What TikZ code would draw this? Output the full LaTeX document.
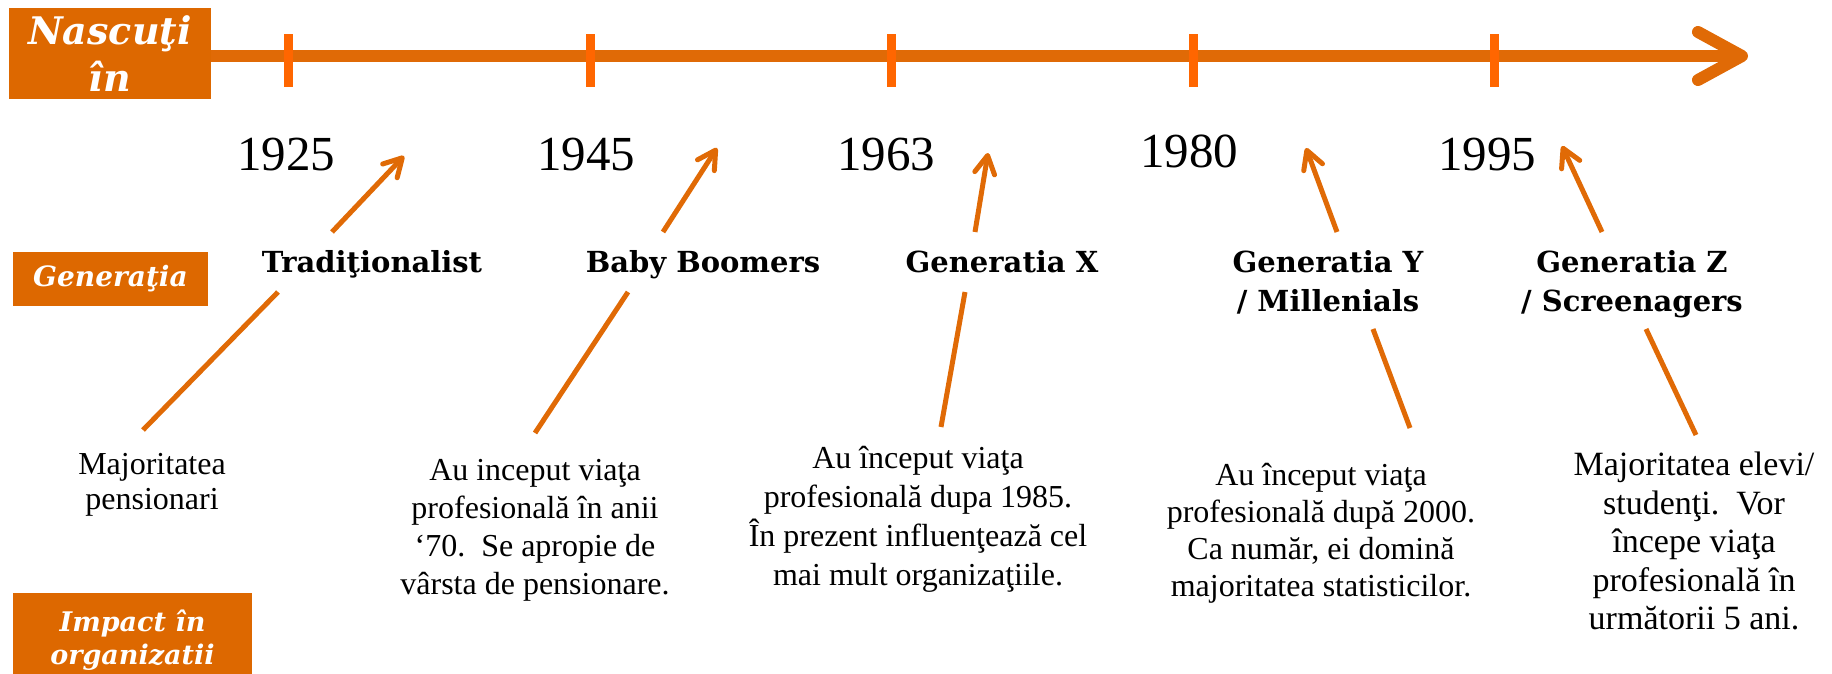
\documentclass[tikz,border=0pt]{standalone}
\usepackage{fontspec}
\setmainfont{Liberation Serif}
\newfontfamily\headfont{DejaVu Serif}
\usetikzlibrary{arrows.meta}
\definecolor{lineorange}{RGB}{224,106,6}
\definecolor{boxorange}{RGB}{221,104,0}
\definecolor{tickorange}{RGB}{255,102,0}

\begin{document}
\begin{tikzpicture}[
    x=0.5pt, y=-0.5pt,
    labelbox/.style={rectangle, fill=boxorange, text=white, inner sep=0pt, align=center},
    tickmark/.style={rectangle, fill=tickorange, inner sep=0pt, minimum width=4.5pt, minimum height=26.5pt},
    year/.style={font=\fontsize{24.5}{29}\selectfont, inner sep=0pt},
    generation/.style={anchor=north, inner sep=0pt, align=center, font=\headfont\bfseries\fontsize{14.5}{19.5}\selectfont},
    impact/.style={anchor=north, inner sep=0pt, align=center, font=\fontsize{16}{19}\selectfont},
    timeline/.style={line width=6pt, draw=lineorange, -{Straight Barb[length=22pt, width=24pt, round]}},
    pointer/.style={line width=2.5pt, draw=lineorange, -{Straight Barb[length=9pt, width=10pt, round]}},
    link/.style={line width=2.5pt, draw=lineorange},
]
\useasboundingbox (0,0) rectangle (1832,674);
\clip (0,0) rectangle (1832,674);

% Row headers
\node[labelbox, minimum width=101pt, minimum height=45.5pt, font=\headfont\bfseries\itshape\fontsize{19}{23.5}\selectfont] (nascuti) at (110,53.5) {Nascuţi\\în};
\node[labelbox, minimum width=97.5pt, minimum height=27pt, font=\headfont\bfseries\itshape\fontsize{14}{17}\selectfont] (generatia) at (110.5,279) {Generaţia};
\node[labelbox, minimum width=119.5pt, minimum height=47.5pt, font=\headfont\bfseries\itshape\fontsize{13.5}{16.5}\selectfont] (impactbox) at (132.5,640.5) {Impact în\\organizatii};

% Time axis
\coordinate (tlend) at (1748,56);
\draw[timeline] (nascuti.east |- tlend) -- (tlend);

\node[tickmark] (tick1925) at (288,60.5) {};
\node[tickmark] (tick1945) at (590,60.5) {};
\node[tickmark] (tick1963) at (891,60.5) {};
\node[tickmark] (tick1980) at (1193,60.5) {};
\node[tickmark] (tick1995) at (1494,60.5) {};

% Years
\node[year] (y1925) at (286,155) {1925};
\node[year] (y1945) at (586,155) {1945};
\node[year] (y1963) at (886,155) {1963};
\node[year] (y1980) at (1189,151) {1980};
\node[year] (y1995) at (1487,155) {1995};

% Generations
\node[generation] (traditionalist) at (372,250) {Tradiţionalist};
\node[generation] (boomers) at (703,250) {Baby Boomers};
\node[generation] (genx) at (1002,250) {Generatia X};
\node[generation] (geny) at (1328,250) {Generatia Y\\/ Millenials};
\node[generation] (genz) at (1632,250) {Generatia Z\\/ Screenagers};

% Impact texts
\node[impact, font=\fontsize{16}{17.5}\selectfont] (imptrad) at (152,453) {Majoritatea\\pensionari};
\node[impact] (impboomers) at (535,459) {Au inceput viaţa\\profesională în anii\\‘70.~~Se apropie de\\vârsta de pensionare.};
\node[impact, font=\fontsize{16}{19.5}\selectfont] (impx) at (918,446) {Au început viaţa\\profesională dupa 1985.\\În prezent influenţează cel\\mai mult organizaţiile.};
\node[impact, font=\fontsize{16}{18.5}\selectfont] (impy) at (1321,463) {Au început viaţa\\profesională după 2000.\\Ca număr, ei domină\\majoritatea statisticilor.};
\node[impact, font=\fontsize{17}{19.2}\selectfont] (impz) at (1694,452) {Majoritatea elevi/\\studenţi.~~Vor\\începe viaţa\\profesională în\\următorii 5 ani.};

% Pointer ends
\coordinate (tradup) at (332,232);   \coordinate (tradtip) at (404,156);
\coordinate (traddown) at (278,292); \coordinate (tradend) at (143,430);
\coordinate (boomup) at (663,232);   \coordinate (boomtip) at (717,148);
\coordinate (boomdown) at (628,292); \coordinate (boomend) at (535,433);
\coordinate (xup) at (975,232);      \coordinate (xtip) at (988,153);
\coordinate (xdown) at (965,292);    \coordinate (xend) at (941,427);
\coordinate (yup) at (1337,232);     \coordinate (ytip) at (1306,148);
\coordinate (ydown) at (1373,329);   \coordinate (yend) at (1410,428);
\coordinate (zup) at (1602,232);     \coordinate (ztip) at (1562,146);
\coordinate (zdown) at (1646,329);   \coordinate (zend) at (1696,435);

% Arrows
\draw[pointer] (tradup) -- (tradtip);
\draw[link] (traddown) -- (tradend);
\draw[pointer] (boomup) -- (boomtip);
\draw[link] (boomdown) -- (boomend);
\draw[pointer] (xup) -- (xtip);
\draw[link] (xdown) -- (xend);
\draw[pointer] (yup) -- (ytip);
\draw[link] (ydown) -- (yend);
\draw[pointer] (zup) -- (ztip);
\draw[link] (zdown) -- (zend);

\end{tikzpicture}
\end{document}
